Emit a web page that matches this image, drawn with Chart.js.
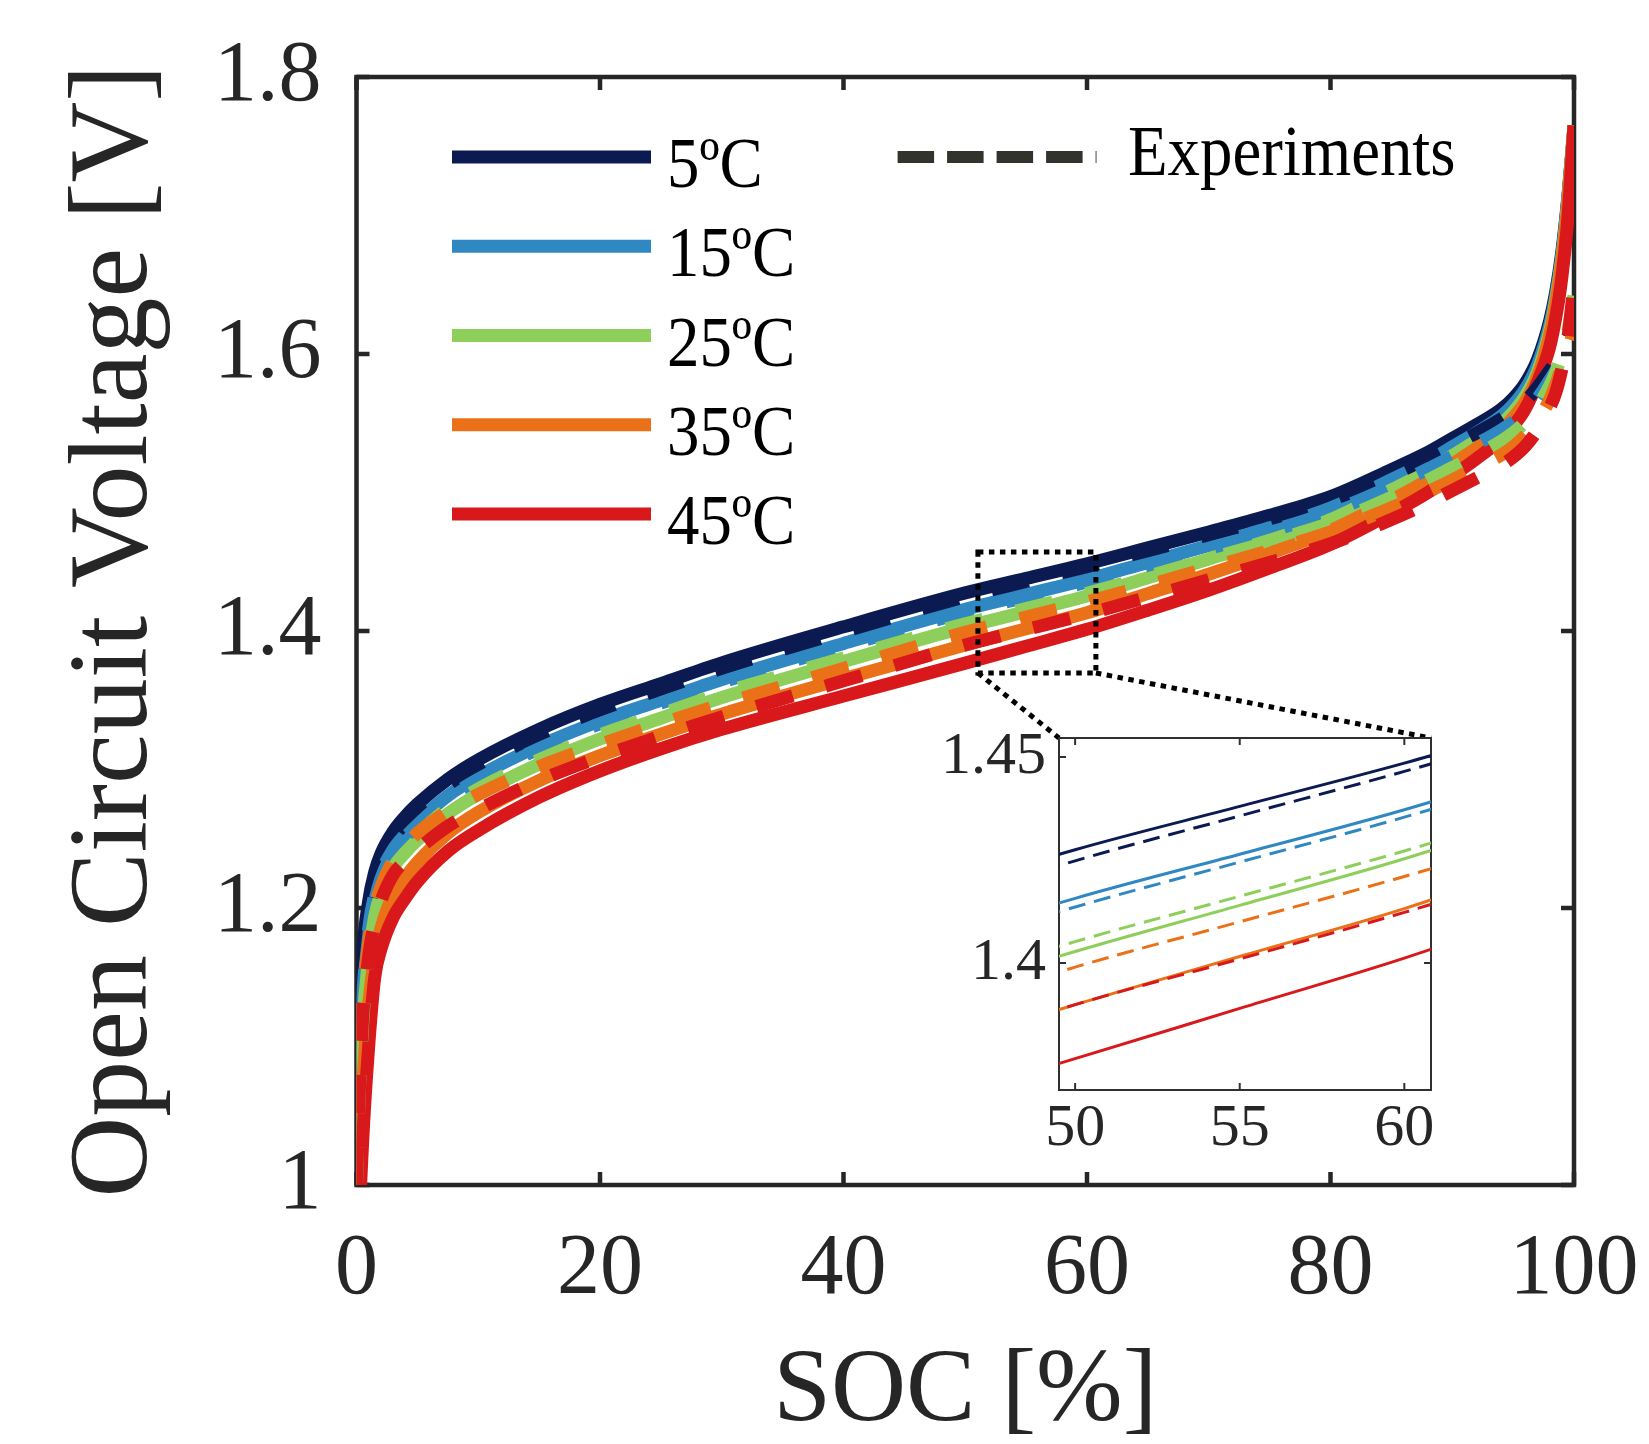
<!DOCTYPE html>
<html>
<head>
<meta charset="utf-8">
<script src="https://cdn.jsdelivr.net/npm/chart.js@4.4.1/dist/chart.umd.min.js"></script>
<style>
  html, body { margin: 0; padding: 0; background: #ffffff; }
  #wrap { position: relative; width: 1649px; height: 1444px; overflow: hidden; }
  #main { position: absolute; left: 0; top: 0; }
  #inset { position: absolute; left: 880px; top: 690px; }
</style>
</head>
<body>
<div id="wrap">
  <canvas id="main" width="1649" height="1444"></canvas>
  <canvas id="inset" width="570" height="500"></canvas>
</div>
<script>
// ---------------- data ----------------
const soc = [0, 0.2, 0.5, 1, 1.5, 2, 3, 4, 5, 7.5, 10, 15, 20, 25, 30, 40, 50, 55, 60, 65, 70, 75, 80, 85, 88, 90, 92, 94, 95, 96, 97, 98, 98.5, 99, 99.5, 100];

const model5  = [1.000, 1.100, 1.165, 1.205, 1.226, 1.239, 1.255, 1.266, 1.275, 1.293, 1.307, 1.329, 1.347, 1.362, 1.377, 1.403, 1.4275, 1.438, 1.4485, 1.460, 1.4715, 1.4835, 1.497, 1.5165, 1.529, 1.539, 1.549, 1.560, 1.568, 1.579, 1.596, 1.624, 1.645, 1.674, 1.714, 1.765];
const model15 = [0.970, 1.070, 1.135, 1.185, 1.210, 1.225, 1.242, 1.253, 1.262, 1.281, 1.295, 1.317, 1.335, 1.350, 1.365, 1.391, 1.4157, 1.4264, 1.4372, 1.4495, 1.4617, 1.4745, 1.4888, 1.5093, 1.5224, 1.533, 1.5434, 1.555, 1.5633, 1.5746, 1.592, 1.6205, 1.642, 1.6715, 1.7125, 1.765];
const model25 = [0.940, 1.040, 1.110, 1.165, 1.194, 1.210, 1.229, 1.240, 1.249, 1.268, 1.282, 1.304, 1.322, 1.337, 1.352, 1.378, 1.4028, 1.414, 1.4253, 1.4385, 1.452, 1.4655, 1.4805, 1.502, 1.5155, 1.5265, 1.5375, 1.5495, 1.558, 1.5695, 1.587, 1.6165, 1.6385, 1.6685, 1.7105, 1.765];
const model35 = [0.900, 1.000, 1.070, 1.130, 1.165, 1.185, 1.209, 1.222, 1.233, 1.254, 1.269, 1.292, 1.310, 1.3255, 1.340, 1.3655, 1.3899, 1.4016, 1.4132, 1.427, 1.441, 1.456, 1.4725, 1.4945, 1.509, 1.5205, 1.532, 1.545, 1.554, 1.5655, 1.5835, 1.6135, 1.636, 1.6665, 1.709, 1.765];
const model45 = [0.850, 0.960, 1.030, 1.100, 1.150, 1.170, 1.193, 1.207, 1.219, 1.241, 1.256, 1.280, 1.299, 1.315, 1.329, 1.353, 1.3768, 1.389, 1.4012, 1.415, 1.4295, 1.4455, 1.4625, 1.485, 1.500, 1.512, 1.5245, 1.5385, 1.548, 1.5605, 1.5795, 1.605, 1.626, 1.655, 1.698, 1.765];

const exp5  = [1.000, 1.080, 1.150, 1.195, 1.218, 1.232, 1.250, 1.262, 1.271, 1.289, 1.303, 1.325, 1.343, 1.358, 1.373, 1.3995, 1.4248, 1.4357, 1.4465, 1.458, 1.4695, 1.481, 1.4945, 1.5125, 1.525, 1.534, 1.543, 1.553, 1.559, 1.566, 1.576, 1.588, 1.594, 1.601, 1.609, 1.625];
const exp15 = [1.000, 1.070, 1.130, 1.180, 1.205, 1.221, 1.240, 1.251, 1.260, 1.279, 1.293, 1.315, 1.333, 1.348, 1.363, 1.389, 1.4136, 1.4245, 1.4354, 1.4475, 1.4595, 1.472, 1.486, 1.5045, 1.517, 1.526, 1.535, 1.545, 1.551, 1.558, 1.568, 1.581, 1.588, 1.597, 1.607, 1.622];
const exp25 = [1.000, 1.060, 1.115, 1.170, 1.198, 1.214, 1.233, 1.244, 1.253, 1.272, 1.286, 1.307, 1.325, 1.340, 1.355, 1.3805, 1.4052, 1.4162, 1.4272, 1.4395, 1.452, 1.4645, 1.478, 1.4965, 1.509, 1.518, 1.527, 1.537, 1.543, 1.551, 1.562, 1.577, 1.587, 1.600, 1.617, 1.642];
const exp35 = [1.000, 1.070, 1.130, 1.175, 1.200, 1.215, 1.234, 1.245, 1.254, 1.270, 1.282, 1.302, 1.318, 1.333, 1.347, 1.373, 1.399, 1.410, 1.421, 1.433, 1.4455, 1.458, 1.4715, 1.489, 1.5005, 1.509, 1.518, 1.527, 1.533, 1.541, 1.552, 1.567, 1.578, 1.591, 1.603, 1.618];
const exp45 = [1.000, 1.060, 1.120, 1.165, 1.190, 1.205, 1.224, 1.234, 1.242, 1.259, 1.271, 1.292, 1.309, 1.324, 1.338, 1.364, 1.3899, 1.401, 1.4123, 1.4245, 1.437, 1.4495, 1.463, 1.4805, 1.4925, 1.5015, 1.5105, 1.5195, 1.5255, 1.5335, 1.545, 1.561, 1.572, 1.589, 1.612, 1.650];

const tempLabels = ['5ºC', '15ºC', '25ºC', '35ºC', '45ºC'];
const expLabel = 'Experiments';

const xTicks = [0, 20, 40, 60, 80, 100];
const yTicks = [1, 1.2, 1.4, 1.6, 1.8];
const xRange = [0, 100];
const yRange = [1, 1.8];

const insetXTicks = [50, 55, 60];
const insetYTicks = [1.4, 1.45];
const insetXRange = [49.51, 60.81];
const insetYRange = [1.3692, 1.4546];
const zoomBoxX = [51.04, 60.73];
const zoomBoxY = [1.3697, 1.457];

// ---------------- styles ----------------
const colors = ['#0b1b52', '#3088c2', '#8dcf5a', '#ea7117', '#d8181b'];
const FAM = '"Liberation Serif", "Times New Roman", serif';
const AXC = '#262626';

const models = [model5, model15, model25, model35, model45];
const exps = [exp5, exp15, exp25, exp35, exp45];

function pts(arr) { return soc.map((s, i) => ({ x: s, y: arr[i] })); }

function makeDatasets(lw, dash) {
  const list = [];
  models.forEach((m, i) => list.push({ label: tempLabels[i] + ' model', data: pts(m), borderColor: colors[i], borderWidth: lw, borderDash: [] }));
  exps.forEach((e, i) => list.push({ label: tempLabels[i] + ' exp', data: pts(e), borderColor: colors[i], borderWidth: lw, borderDash: dash }));
  const n = list.length;
  list.forEach((d, i) => {
    d.order = n - i;            // later entries drawn on top
    d.fill = false;
    d.pointRadius = 0;
    d.cubicInterpolationMode = 'monotone';
    d.borderCapStyle = 'butt';
    d.borderJoinStyle = 'round';
  });
  return list;
}

function setTicks(arr) { return (scale) => { scale.ticks = arr.map(v => ({ value: v })); }; }
function fixX(h) { return (s) => { s.height = h; s.paddingLeft = 0; s.paddingRight = 0; }; }
function fixY(w) { return (s) => { s.width = w; s.paddingTop = 0; s.paddingBottom = 0; }; }

const framePlugin = {
  id: 'frame',
  beforeDraw(chart, args, o) {
    if (!o.fill) return;
    const { ctx, chartArea: a } = chart;
    ctx.save();
    ctx.fillStyle = o.fill;
    ctx.fillRect(a.left, a.top, a.right - a.left, a.bottom - a.top);
    ctx.restore();
  },
  beforeDatasetsDraw(chart, args, o) {
    const { ctx, chartArea: a, scales: { x, y } } = chart;
    ctx.save();
    ctx.strokeStyle = o.color;
    ctx.lineWidth = o.width;
    ctx.setLineDash([]);
    ctx.beginPath();
    x.ticks.forEach(t => {
      const px = x.getPixelForValue(t.value);
      ctx.moveTo(px, a.bottom); ctx.lineTo(px, a.bottom - o.len);
      ctx.moveTo(px, a.top); ctx.lineTo(px, a.top + o.len);
    });
    y.ticks.forEach(t => {
      const py = y.getPixelForValue(t.value);
      ctx.moveTo(a.left, py); ctx.lineTo(a.left + o.len, py);
      ctx.moveTo(a.right, py); ctx.lineTo(a.right - o.len, py);
    });
    ctx.stroke();
    ctx.lineJoin = 'miter';
    ctx.strokeRect(a.left, a.top, a.right - a.left, a.bottom - a.top);
    ctx.restore();
  }
};

let insetChart = null;

const zoomPlugin = {
  id: 'zoomBox',
  afterDatasetsDraw(chart, args, o) {
    const { ctx, scales: { x, y } } = chart;
    const x0 = x.getPixelForValue(zoomBoxX[0]), x1 = x.getPixelForValue(zoomBoxX[1]);
    const y0 = y.getPixelForValue(zoomBoxY[1]), y1 = y.getPixelForValue(zoomBoxY[0]);
    ctx.save();
    ctx.strokeStyle = '#000000';
    ctx.lineWidth = o.width;
    ctx.setLineDash(o.dash);
    ctx.strokeRect(x0, y0, x1 - x0, y1 - y0);
    if (insetChart) {
      const c = insetChart.canvas;
      const ox = c.offsetLeft, oy = c.offsetTop;
      const ia = insetChart.chartArea;
      ctx.beginPath();
      ctx.moveTo(x0, y1); ctx.lineTo(ox + ia.left, oy + ia.top);
      ctx.moveTo(x1, y1); ctx.lineTo(ox + ia.right, oy + ia.top);
      ctx.stroke();
    }
    ctx.restore();
  }
};

const legendPlugin = {
  id: 'customLegend',
  afterDraw(chart, args, o) {
    const ctx = chart.ctx;
    ctx.save();
    ctx.fillStyle = '#000000';
    ctx.font = o.size + 'px ' + FAM;
    ctx.textBaseline = 'alphabetic';
    ctx.textAlign = 'left';
    const txt = (s, x, y) => { ctx.save(); ctx.translate(x, y); ctx.scale(o.squeeze, 1); ctx.fillText(s, 0, 0); ctx.restore(); };
    tempLabels.forEach((lab, i) => {
      const y = o.y0 + i * o.dy;
      ctx.strokeStyle = colors[i];
      ctx.lineWidth = o.lw;
      ctx.lineCap = 'butt';
      ctx.setLineDash([]);
      ctx.beginPath(); ctx.moveTo(o.x0, y); ctx.lineTo(o.x1, y); ctx.stroke();
      txt(lab, o.tx, y + o.base);
    });
    ctx.strokeStyle = o.expColor;
    ctx.lineWidth = o.elw;
    ctx.setLineDash(o.dash);
    ctx.beginPath(); ctx.moveTo(o.ex0, o.y0); ctx.lineTo(o.ex1, o.y0); ctx.stroke();
    txt(expLabel, o.etx, o.ey);
    ctx.restore();
  }
};

function build() {
  insetChart = new Chart(document.getElementById('inset'), {
    type: 'line',
    data: { datasets: makeDatasets(3, [17, 9]) },
    options: {
      responsive: false, animation: false, devicePixelRatio: 1,
      events: [],
      layout: { padding: { left: 0, right: 19, top: 48, bottom: 0 } },
      plugins: {
        legend: { display: false }, tooltip: { enabled: false },
        frame: { color: '#303030', width: 2, len: 7, fill: '#ffffff' },
        zoomBox: false, customLegend: false
      },
      scales: {
        x: {
          type: 'linear', min: insetXRange[0], max: insetXRange[1],
          afterBuildTicks: setTicks(insetXTicks),
          afterFit: fixX(100),
          grid: { display: false, drawTicks: false }, border: { display: false },
          ticks: { color: AXC, font: { family: FAM, size: 60 }, padding: 3, maxRotation: 0, autoSkip: false, callback: v => String(v) }
        },
        y: {
          type: 'linear', min: insetYRange[0], max: insetYRange[1],
          afterBuildTicks: setTicks(insetYTicks),
          afterFit: fixY(179),
          grid: { display: false, drawTicks: false }, border: { display: false },
          ticks: { color: AXC, font: { family: FAM, size: 60 }, padding: 13, autoSkip: false, callback: v => String(v) }
        }
      }
    },
    plugins: [framePlugin]
  });

  new Chart(document.getElementById('main'), {
    type: 'line',
    data: { datasets: makeDatasets(13, [38, 34]) },
    options: {
      responsive: false, animation: false, devicePixelRatio: 1,
      events: [],
      layout: { padding: { left: 0, right: 75, top: 77, bottom: 0 } },
      plugins: {
        legend: { display: false }, tooltip: { enabled: false },
        frame: { color: AXC, width: 4.5, len: 13 },
        zoomBox: { width: 5, dash: [5.5, 5.5] },
        customLegend: {
          size: 72, squeeze: 0.9,
          x0: 452, x1: 651, y0: 157, dy: 89.25, lw: 13, tx: 667, base: 30,
          ex0: 897.6, ex1: 1096.5, elw: 12, dash: [36.5, 13], expColor: '#33332d',
          etx: 1128, ey: 175
        }
      },
      scales: {
        x: {
          type: 'linear', min: xRange[0], max: xRange[1],
          afterBuildTicks: setTicks(xTicks),
          afterFit: fixX(259),
          grid: { display: false, drawTicks: false }, border: { display: false },
          ticks: { color: AXC, font: { family: FAM, size: 86 }, padding: 34, maxRotation: 0, autoSkip: false, callback: v => String(v) },
          title: { display: true, text: 'SOC [%]', color: AXC, font: { family: FAM, size: 104, lineHeight: 0.98 }, padding: 0 }
        },
        y: {
          type: 'linear', min: yRange[0], max: yRange[1],
          afterBuildTicks: setTicks(yTicks),
          afterFit: fixY(356.5),
          grid: { display: false, drawTicks: false }, border: { display: false },
          ticks: { color: AXC, font: { family: FAM, size: 86 }, padding: 35, autoSkip: false, callback: v => String(v) },
          title: { display: true, text: 'Open Circuit Voltage [V]', color: AXC, font: { family: FAM, size: 112, lineHeight: 1 }, padding: { top: 61, bottom: 0 } }
        }
      }
    },
    plugins: [framePlugin, zoomPlugin, legendPlugin]
  });
}

if (document.fonts && document.fonts.load) {
  Promise.all([
    document.fonts.load('86px "Liberation Serif"'),
    document.fonts.load('72px "Liberation Serif"')
  ]).then(build, build);
} else {
  build();
}
</script>
</body>
</html>
